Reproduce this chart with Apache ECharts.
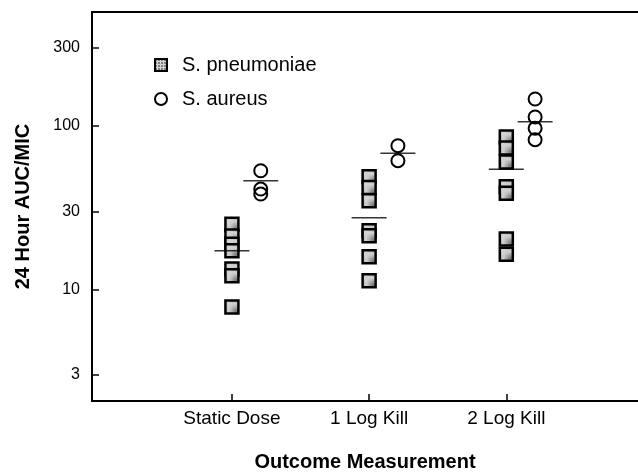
<!DOCTYPE html>
<html>
<head>
<meta charset="utf-8">
<script src="https://cdn.jsdelivr.net/npm/echarts@6/dist/echarts.min.js"></script>
<style>
html, body { margin: 0; padding: 0; background: #fff; }
#chart { width: 638px; height: 472px; }
</style>
</head>
<body>
<div id="chart"></div>
<script>
// values (24h AUC/MIC, log scale)
const categories = ['Static Dose', '1 Log Kill', '2 Log Kill']
const pneumoniae = [
    [25.0, 21.2, 18.9, 17.2, 13.3, 12.1, 7.8],
    [48.9, 42.0, 34.8, 22.8, 21.3, 15.8, 11.3],
    [85.6, 73.3, 60.2, 42.4, 38.7, 20.3, 16.4]
]
const aureus = [
    [53.2, 41.1, 38.3],
    [75.7, 61.3],
    [146.3, 113.5, 96.8, 82.4]
]
const pneumoniaeMean = [17.2, 27.4, 54.3]
const aureusMean = [46.2, 68.0, 106.3]
const yTicks = [3, 10, 30, 100, 300]

const FONT = '"Liberation Sans", Arial, Helvetica, sans-serif'
const AUREUS_SHIFT = 0.21

// stipple fill of the squares
let tile = document.createElement('canvas')
tile.width = 3
tile.height = 3
let ctx = tile.getContext('2d')
ctx.fillStyle = '#d4d4d4'
ctx.fillRect(0, 0, 3, 3)
ctx.fillStyle = '#808080'
ctx.fillRect(0, 0, 2, 2)
const stipple = {image: tile, repeat: 'repeat'}

let lg = (v) => Math.log10(v)

let points = (groups, shift) => {
    let out = []
    groups.forEach((vals, i) => {
        vals.forEach(v => out.push([i + 1 + shift, lg(v)]))
    })
    return out
}
let means = (vals, shift) => vals.map((v, i) => [i + 1 + shift, lg(v)])

let chart = echarts.init(document.getElementById('chart'))

chart.setOption({
    animation: false,
    backgroundColor: '#fff',
    grid: {left: 92, right: 0, top: 12, bottom: 71, containLabel: false, outerBoundsMode: 'none'},
    legend: {
        data: ['S. pneumoniae', 'S. aureus'],
        orient: 'vertical',
        left: 149,
        top: 50,
        itemWidth: 12,
        itemHeight: 12,
        itemGap: 14,
        textStyle: {fontFamily: FONT, fontSize: 20, color: '#000', padding: [0, 0, 0, 10]}
    },
    xAxis: [{
        type: 'value',
        min: -0.02,
        max: 3.96,
        name: 'Outcome Measurement',
        nameLocation: 'middle',
        nameGap: 51,
        nameTextStyle: {fontFamily: FONT, fontSize: 20, fontWeight: 'bold', color: '#000'},
        axisLine: {show: true, lineStyle: {color: '#000', width: 2}},
        axisTick: {show: true, inside: true, length: 7, customValues: [1, 2, 3], lineStyle: {color: '#000', width: 1.5}},
        axisLabel: {
            customValues: [1, 2, 3],
            margin: 8,
            fontFamily: FONT, fontSize: 19, color: '#000',
            formatter: (v) => categories[Math.round(v) - 1] || ''
        },
        splitLine: {show: false}
    }, {
        type: 'value',
        position: 'top',
        min: -0.02,
        max: 3.96,
        axisLine: {show: true, onZero: false, lineStyle: {color: '#000', width: 2}},
        axisTick: {show: false},
        axisLabel: {show: false},
        splitLine: {show: false}
    }],
    yAxis: {
        type: 'value',
        min: 0.316,
        max: 2.698,
        name: '24 Hour AUC/MIC',
        nameLocation: 'middle',
        nameRotate: 90,
        nameGap: 59,
        nameTextStyle: {fontFamily: FONT, fontSize: 20, fontWeight: 'bold', color: '#000'},
        axisLine: {show: true, onZero: false, lineStyle: {color: '#000', width: 2}},
        axisTick: {show: true, inside: true, length: 7, customValues: yTicks.map(lg), lineStyle: {color: '#000', width: 1.5}},
        axisLabel: {
            customValues: yTicks.map(lg),
            margin: 12,
            fontFamily: FONT, fontSize: 16, color: '#000',
            formatter: (v) => String(Math.round(Math.pow(10, v)))
        },
        splitLine: {show: false}
    },
    series: [{
        name: 'S. pneumoniae',
        type: 'scatter',
        symbol: 'rect',
        symbolSize: 13,
        itemStyle: {color: stipple, borderColor: '#000', borderWidth: 2.5, opacity: 1},
        data: points(pneumoniae, 0)
    }, {
        name: 'S. aureus',
        type: 'scatter',
        symbol: 'circle',
        symbolSize: 13,
        itemStyle: {color: 'rgba(255,255,255,0)', borderColor: '#000', borderWidth: 2, opacity: 1},
        data: points(aureus, AUREUS_SHIFT)
    }, {
        name: 'pneumoniae mean',
        type: 'scatter',
        symbol: 'rect',
        symbolSize: [35, 1.5],
        itemStyle: {color: '#000'},
        z: 3,
        data: means(pneumoniaeMean, 0)
    }, {
        name: 'aureus mean',
        type: 'scatter',
        symbol: 'rect',
        symbolSize: [35, 1.5],
        itemStyle: {color: '#000'},
        z: 3,
        data: means(aureusMean, AUREUS_SHIFT)
    }]
})
</script>
</body>
</html>
